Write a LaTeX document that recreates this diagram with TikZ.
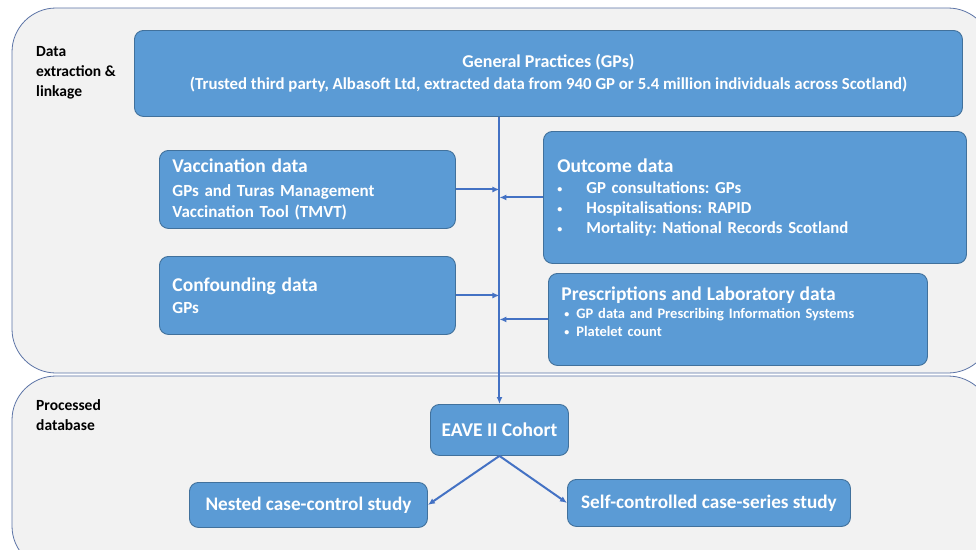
\documentclass[tikz,border=0pt]{standalone}
\usepackage{fontspec}
\setmainfont{Carlito}
\usetikzlibrary{arrows.meta}
\definecolor{boxblue}{HTML}{5B9BD5}
\definecolor{boxedge}{HTML}{41719C}
\definecolor{flowblue}{HTML}{4472C4}
\definecolor{panelgray}{HTML}{F2F2F2}
\definecolor{paneledge}{HTML}{5B73A6}
\newcommand{\fs}[2]{\fontsize{#1}{#2}\selectfont}
\newcommand{\bitem}[2]{\makebox[#1][l]{\raisebox{1pt}{\fs{10}{10}\textbullet}}#2}
\frenchspacing
\begin{document}
\begin{tikzpicture}[x=1pt,y=-1pt,
	panel/.style={draw=paneledge, fill=panelgray, line width=0.8pt, rounded corners=44pt},
	paneltitle/.style={anchor=north west, align=left, inner sep=0pt, font=\bfseries\fs{15.5}{20}},
	databox/.style={draw=boxedge, fill=boxblue, line width=0.9pt, rounded corners=9pt, text=white, anchor=north west, inner ysep=0pt},
	flow/.style={draw=flowblue, line width=2pt, -{Latex[length=7pt,width=6pt]}}]
	\clip (0,0) rectangle (976,549);
	\fill [white] (0,0) rectangle (976,549);
	\draw [panel] (12,8) rectangle (992,373);
	\draw [panel] (12,376) rectangle (992,570);
	\node [paneltitle] (lblextract) at (36,46) {Data\\extraction \&\\linkage};
	\node [paneltitle] (lbldb) at (36,399) {Processed\\database};
	\node [databox, align=center, minimum width=828pt, minimum height=86pt, inner xsep=0pt, font=\bfseries\fs{16.8}{21}] (gp) at (134,30)
		{{\fs{18}{22}General Practices (GPs)}\\[1pt](Trusted third party, Albasoft Ltd, extracted data from 940 GP or 5.4 million individuals across Scotland)};
	\node [databox, align=left, text width=270pt, inner xsep=13pt, minimum height=78pt, font=\bfseries\fs{17}{21}] (vacc) at (159,150)
		{{\fs{19.5}{24}Vaccination data}\\[3pt]GPs and Turas Management\\Vaccination Tool (TMVT)};
	\node [databox, align=left, text width=270pt, inner xsep=13pt, minimum height=78pt, font=\bfseries\fs{17}{21}] (confound) at (159,256)
		{{\fs{19.5}{24}Confounding data}\\[1pt]GPs};
	\node [databox, align=left, text width=395pt, inner xsep=14pt, minimum height=132pt, font=\bfseries\fs{16.8}{20}] (outcome) at (543,131)
		{{\fs{19.5}{24}Outcome data}\\[1pt]\bitem{29pt}{GP consultations: GPs}\\\bitem{29pt}{Hospitalisations: RAPID}\\\bitem{29pt}{Mortality: National Records Scotland}};
	\node [databox, align=left, text width=353pt, inner xsep=13pt, minimum height=92pt, font=\bfseries\fs{14.5}{18}] (presc) at (548,273)
		{{\fs{19.5}{24}Prescriptions and Laboratory data}\\\hspace*{3pt}\bitem{12pt}{GP data and Prescribing Information Systems}\\\hspace*{3pt}\bitem{12pt}{Platelet count}\\[-2pt]\mbox{}};
	\node [databox, align=center, minimum width=138pt, minimum height=51pt, inner xsep=0pt, font=\bfseries\fs{19.5}{22}] (eave) at (430,404) {EAVE II Cohort};
	\node [databox, align=center, minimum width=238pt, minimum height=45pt, inner xsep=0pt, font=\bfseries\fs{19.2}{22}] (nested) at (189,482) {Nested case-control study};
	\node [databox, align=center, minimum width=283pt, minimum height=47pt, inner xsep=0pt, font=\bfseries\fs{19.2}{22}] (sccs) at (567,479) {Self-controlled case-series study};
	\draw [flow] (eave.north |- gp.south) -- (eave.north);
	\draw [flow] (vacc.east) -- (vacc.east -| eave.north);
	\draw [flow] (confound.east) -- (confound.east -| eave.north);
	\draw [flow] (outcome.west) -- (outcome.west -| eave.north);
	\draw [flow] (presc.west) -- (presc.west -| eave.north);
	\draw [flow] (eave.south) -- (nested.east);
	\draw [flow] (eave.south) -- (sccs.west);
\end{tikzpicture}
\end{document}
